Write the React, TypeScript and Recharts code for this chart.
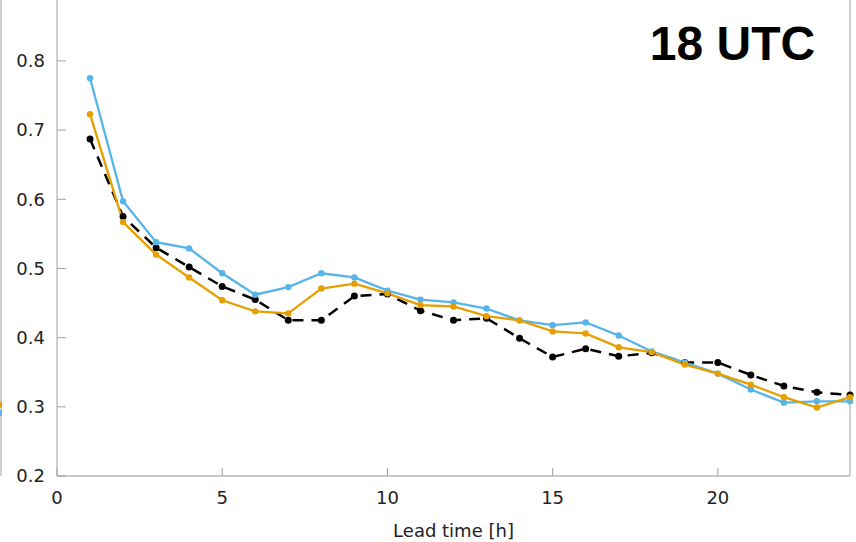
import React from 'react';
import { LineChart, Line, XAxis, YAxis } from 'recharts';

const leadTimes = [1, 2, 3, 4, 5, 6, 7, 8, 9, 10, 11, 12, 13, 14, 15, 16, 17, 18, 19, 20, 21, 22, 23, 24];
const blueSeries = [0.775, 0.597, 0.538, 0.529, 0.493, 0.462, 0.473, 0.493, 0.487, 0.468, 0.455, 0.451, 0.442, 0.425, 0.418, 0.422, 0.403, 0.380, 0.364, 0.348, 0.325, 0.306, 0.308, 0.308];
const orangeSeries = [0.723, 0.567, 0.520, 0.487, 0.454, 0.438, 0.435, 0.471, 0.478, 0.464, 0.447, 0.445, 0.431, 0.425, 0.409, 0.406, 0.386, 0.379, 0.361, 0.348, 0.332, 0.314, 0.299, 0.314];
const blackSeries = [0.687, 0.575, 0.530, 0.502, 0.474, 0.455, 0.425, 0.425, 0.460, 0.463, 0.439, 0.425, 0.428, 0.399, 0.372, 0.384, 0.373, 0.378, 0.364, 0.364, 0.346, 0.330, 0.321, 0.317];

// neighbouring panel (only its last points are visible at the left edge)
const neighborLead = [24];
const neighborBlue = [0.291];
const neighborOrange = [0.303];

const xTicks = [0, 5, 10, 15, 20];
const yTicks = [0.2, 0.3, 0.4, 0.5, 0.6, 0.7, 0.8];
const title = '18 UTC';
const xLabel = 'Lead time [h]';

const data = leadTimes.map((x, i) => ({ x, blue: blueSeries[i], orange: orangeSeries[i], black: blackSeries[i] }));
const neighborData = neighborLead.map((x, i) => ({ x, blue: neighborBlue[i], orange: neighborOrange[i] }));

const BLUE = '#56B4E9';
const ORANGE = '#E69F00';
const BLACK = '#000000';
const AXIS = '#a0a0a0';
const FONT = '"DejaVu Sans", sans-serif';
const Y_DOMAIN: [number, number] = [0.2, 0.888];

export default function App() {
  return (
    <div style={{ position: 'absolute', left: 0, top: 0, width: 856, height: 542, background: '#fff', overflow: 'hidden' }}>
      <div style={{ position: 'absolute', left: -98, top: 0 }}>
        <LineChart width={100} height={542} data={neighborData} margin={{ top: 0, right: 0, bottom: 66, left: 0 }}>
          <XAxis type="number" dataKey="x" domain={[0, 24]} hide />
          <YAxis
            orientation="right"
            width={1}
            domain={Y_DOMAIN}
            ticks={yTicks}
            tick={false}
            tickSize={-9}
            axisLine={{ stroke: AXIS }}
            tickLine={{ stroke: AXIS }}
          />
          <Line dataKey="blue" stroke={BLUE} strokeWidth={2.3} dot={{ r: 3, fill: BLUE, strokeWidth: 0 }} isAnimationActive={false} />
          <Line dataKey="orange" stroke={ORANGE} strokeWidth={2.3} dot={{ r: 3, fill: ORANGE, strokeWidth: 0 }} isAnimationActive={false} />
        </LineChart>
      </div>
      <div style={{ position: 'absolute', left: 0, top: 0 }}>
        <LineChart width={856} height={542} data={data} margin={{ top: 0, right: 5, bottom: 0, left: 0 }}>
          <XAxis
            type="number"
            dataKey="x"
            domain={[0, 24]}
            ticks={xTicks}
            height={66}
            tickSize={-8}
            tickMargin={23}
            axisLine={{ stroke: '#b8b8b8', strokeWidth: 1.5 }}
            tickLine={{ stroke: AXIS }}
            tick={{ fill: '#222', fontSize: 18, fontFamily: FONT }}
            label={{ value: xLabel, position: 'insideBottom', offset: 5, fill: '#222', fontSize: 18, fontFamily: FONT }}
          />
          <YAxis
            domain={Y_DOMAIN}
            ticks={yTicks}
            width={57}
            tickSize={-9}
            tickMargin={21}
            axisLine={{ stroke: AXIS }}
            tickLine={{ stroke: AXIS }}
            tick={{ fill: '#222', fontSize: 18, fontFamily: FONT }}
            tickFormatter={(v: number) => v.toFixed(1)}
          />
          <YAxis
            yAxisId="r"
            orientation="right"
            width={1}
            domain={Y_DOMAIN}
            ticks={yTicks}
            tick={false}
            tickSize={-9}
            axisLine={{ stroke: AXIS }}
            tickLine={{ stroke: AXIS }}
          />
          <Line
            dataKey="black"
            stroke={BLACK}
            strokeWidth={2.5}
            strokeDasharray="11 8"
            dot={{ r: 3.5, fill: BLACK, strokeWidth: 0, strokeDasharray: 'none' }}
            isAnimationActive={false}
          />
          <Line dataKey="blue" stroke={BLUE} strokeWidth={2.3} dot={{ r: 3.2, fill: BLUE, strokeWidth: 0 }} isAnimationActive={false} />
          <Line dataKey="orange" stroke={ORANGE} strokeWidth={2.3} dot={{ r: 3.2, fill: ORANGE, strokeWidth: 0 }} isAnimationActive={false} />
        </LineChart>
      </div>
      <svg width={856} height={542} style={{ position: 'absolute', left: 0, top: 0, pointerEvents: 'none' }}>
        <text x={732.5} y={60} textAnchor="middle" fontFamily='"Liberation Sans", Arial, sans-serif' fontWeight="bold" fontSize={48} fill="#000">
          {title}
        </text>
      </svg>
    </div>
  );
}
